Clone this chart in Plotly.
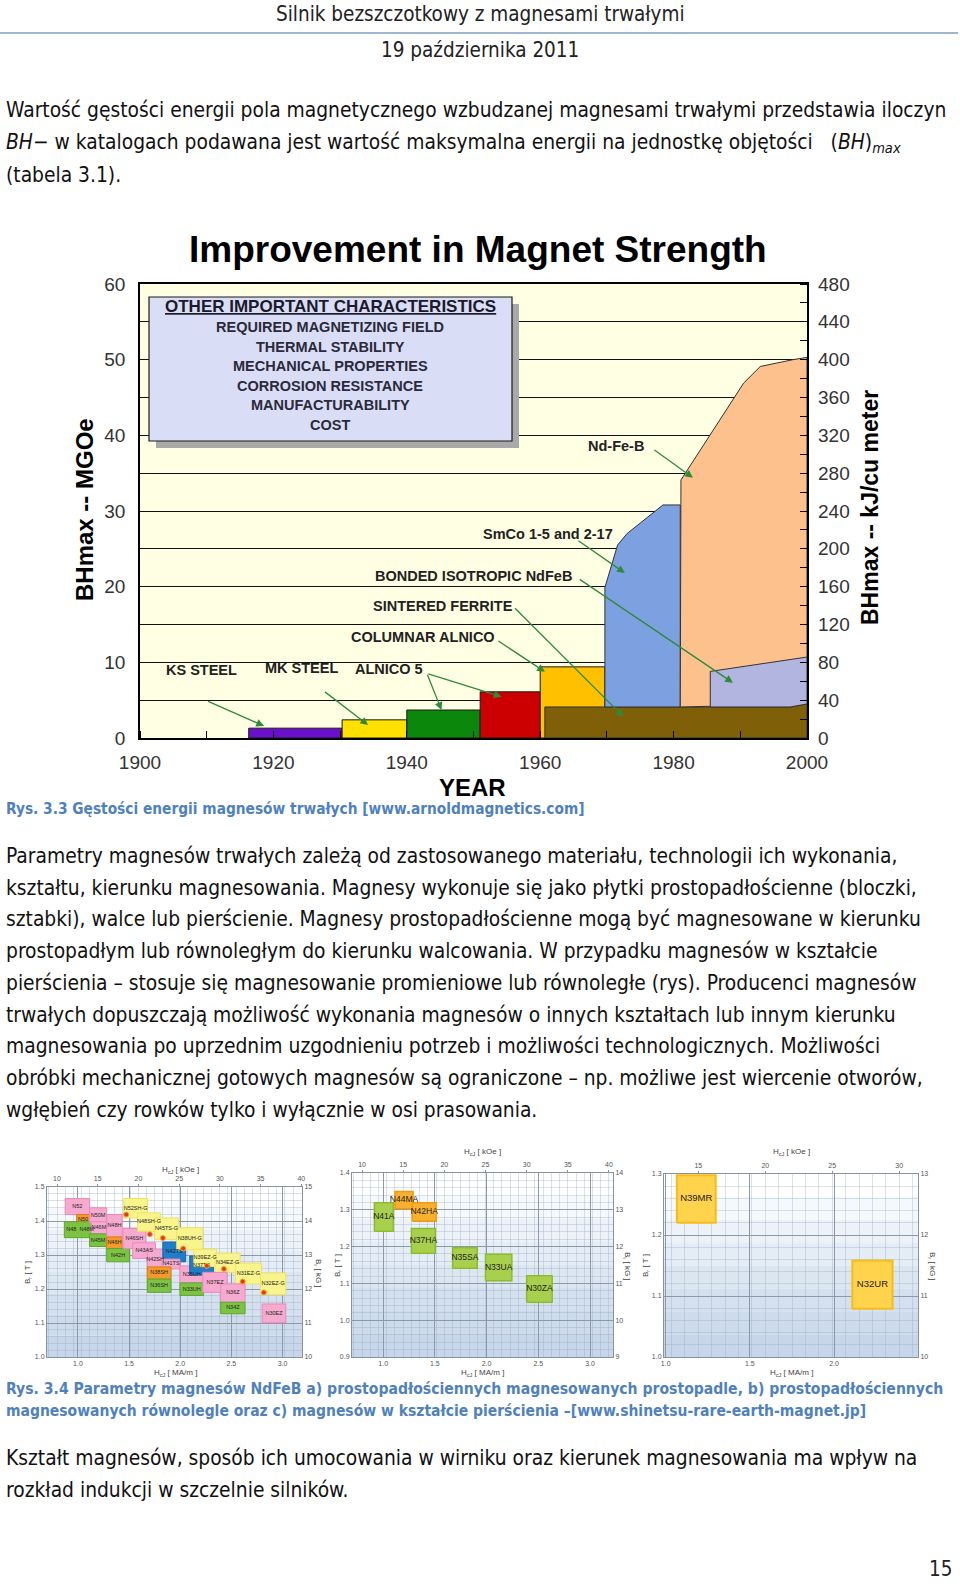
import plotly.graph_objects as go

W, H = 960, 1584
def px(x): return x / W
def py(y): return 1 - y / H

DOC_FONT = "DejaVu Sans Condensed, Liberation Sans Narrow, sans-serif"
CF = "Liberation Sans, Arial, sans-serif"
BLUE_CAP = "#4F81BD"

# ---------------- main chart data (BHmax in MGOe vs year) ----------------
step_names = ["KS STEEL", "MK STEEL", "ALNICO 5", "ALNICO 5 DG", "COLUMNAR ALNICO"]
step_start = [1916.3, 1930.3, 1940.0, 1951.0, 1960.0]
step_end = [1930.3, 1940.0, 1951.0, 1960.0, 1969.7]
step_value = [1.3, 2.4, 3.7, 6.1, 9.4]
step_colors = ["#6A0FCC", "#FFE100", "#0B870B", "#CC0000", "#FFC000"]

ferrite_year = [1960.7, 1960.7, 1997.5, 2000.0, 2000.0]
ferrite_val = [0, 4.1, 4.1, 4.5, 0]
smco_year = [1969.7, 1969.7, 1971.6, 1973.0, 1978.4, 1981.0, 1981.0]
smco_val = [4.1, 19.9, 25.5, 27.0, 30.8, 30.8, 4.1]
ndfeb_year = [1981.0, 1981.1, 1990.5, 1993.0, 1997.9, 2000.0, 2000.0]
ndfeb_val = [4.1, 34.1, 46.9, 49.1, 50.0, 50.3, 4.5]
bonded_year = [1985.5, 1985.5, 2000.0, 2000.0, 1997.5]
bonded_val = [4.1, 8.8, 10.7, 4.5, 4.1]

year_ticks = [1900, 1920, 1940, 1960, 1980, 2000]
mgoe_ticks = [0, 10, 20, 30, 40, 50, 60]
kj_ticks = [0, 40, 80, 120, 160, 200, 240, 280, 320, 360, 400, 440, 480]

label_text = ["Nd-Fe-B", "SmCo 1-5 and 2-17", "BONDED ISOTROPIC NdFeB", "SINTERED FERRITE",
              "COLUMNAR ALNICO", "ALNICO 5", "MK STEEL", "KS STEEL"]
label_year = [1971.4, 1961.2, 1950.0, 1945.4, 1942.4, 1937.3, 1924.2, 1909.2]
label_val = [38.6, 26.9, 21.45, 17.5, 13.4, 9.08, 9.2, 9.0]

arrow_tail_year = [1976.9, 1965.5, 1965.7, 1956.0, 1953.5, 1943.0, 1943.0, 1927.5, 1910.0]
arrow_tail_val = [38.2, 26.2, 21.1, 17.35, 12.95, 8.55, 8.55, 6.25, 4.93]
arrow_head_year = [1982.9, 1972.7, 1988.9, 1972.5, 1960.7, 1945.2, 1954.2, 1934.2, 1918.6]
arrow_head_val = [34.4, 21.8, 7.3, 2.8, 8.76, 3.7, 5.46, 1.72, 1.59]

box_lines = ["REQUIRED MAGNETIZING FIELD", "THERMAL STABILITY", "MECHANICAL PROPERTIES",
             "CORROSION RESISTANCE", "MANUFACTURABILITY", "COST"]

# ---------------- small chart a (perpendicular magnetized blocks) ----------------
a_names = ["N52", "N50", "N48  N48M", "N50M", "N46M", "N45M", "N48H", "N46H", "N42H", "N46SH",
           "N52SH-G", "N48SH-G", "N45TS-G", "N43AS", "N42SH", "N42TS", "N41TS", "N38SH", "N36SH",
           "N38UH-G", "N35UH", "N33UH", "N37TS", "N39EZ-G", "N34EZ-G", "N37EZ", "N31EZ-G",
           "N36Z", "N34Z", "N32EZ-G", "N30EZ"]
a_hcj_lo = [11.0, 12.4, 10.9, 14.0, 14.2, 14.0, 16.1, 16.1, 16.1, 18.1, 18.2, 19.9, 22.0, 19.3,
            21.1, 23.0, 22.9, 21.1, 21.1, 24.7, 25.1, 25.1, 26.3, 26.8, 29.4, 27.9, 31.9, 30.1,
            30.1, 35.0, 35.2]
a_hcj_hi = [14.0, 14.0, 14.8, 16.1, 16.1, 16.1, 18.0, 18.0, 18.9, 20.9, 21.1, 22.7, 24.9, 22.1,
            23.0, 25.8, 25.1, 24.0, 24.0, 27.9, 28.0, 28.0, 29.2, 29.6, 32.5, 30.9, 35.1, 33.1,
            33.1, 38.1, 38.1]
a_br_lo = [1.419, 1.390, 1.351, 1.395, 1.362, 1.325, 1.353, 1.319, 1.280, 1.319, 1.409, 1.370,
           1.346, 1.290, 1.254, 1.280, 1.259, 1.229, 1.190, 1.315, 1.218, 1.181, 1.241, 1.266,
           1.249, 1.190, 1.215, 1.161, 1.127, 1.183, 1.101]
a_br_hi = [1.466, 1.419, 1.398, 1.439, 1.398, 1.362, 1.419, 1.353, 1.319, 1.378, 1.466, 1.424,
           1.409, 1.336, 1.317, 1.338, 1.288, 1.265, 1.229, 1.380, 1.268, 1.218, 1.297, 1.317,
           1.305, 1.249, 1.276, 1.215, 1.161, 1.247, 1.156]
a_kind = ["pink", "orange", "green", "pink", "pink", "green", "pink", "orange", "green", "pink",
          "yellow", "yellow", "yellow", "pink", "pink", "blue", "pink", "orange", "green",
          "yellow", "pink", "green", "blue", "yellow", "yellow", "pink", "yellow", "pink",
          "green", "yellow", "pink"]
a_dot_hcj = [18.5, 21.4, 23.0, 25.5, 28.4, 30.5, 32.8, 35.4]
a_dot_br = [1.419, 1.361, 1.350, 1.319, 1.268, 1.259, 1.222, 1.190]

# ---------------- small chart b (parallel magnetized) ----------------
b_names = ["N44MA", "N42HA", "N41A", "N37HA", "N35SA", "N33UA", "N30ZA"]
b_hcj_lo = [14.0, 16.1, 11.5, 16.0, 21.0, 25.0, 30.0]
b_hcj_hi = [16.2, 19.0, 13.8, 18.9, 24.0, 28.2, 33.1]
b_br_lo = [1.303, 1.269, 1.242, 1.182, 1.141, 1.107, 1.049]
b_br_hi = [1.350, 1.319, 1.319, 1.249, 1.197, 1.179, 1.121]
b_kind = ["orangeb", "orangeb", "greenb", "greenb", "greenb", "greenb", "greenb"]

# ---------------- small chart c (rings) ----------------
c_names = ["N39MR", "N32UR"]
c_hcj_lo = [13.4, 26.5]
c_hcj_hi = [16.3, 29.5]
c_br_lo = [1.220, 1.079]
c_br_hi = [1.298, 1.158]
c_kind = ["gold", "gold"]

KOE_PER_MAM = 12.566

kind_fill = {"pink": "#F6AACF", "orange": "#F39A2A", "green": "#7CC243", "yellow": "#FAF48C",
             "blue": "#1F7DC9", "greenb": "#A9D04C", "orangeb": "#F9B02E", "gold": "#FFD34C"}
kind_line = {"pink": "#EC88BC", "orange": "#E07D10", "green": "#5DA82E", "yellow": "#EFE35C",
             "blue": "#1664A8", "greenb": "#8DBB2F", "orangeb": "#F09A10", "gold": "#F5BC1A"}

fig = go.Figure()

# ---- main chart traces ----
for n, s, e, v, c in zip(step_names, step_start, step_end, step_value, step_colors):
    fig.add_trace(go.Scatter(x=[s, s, e, e, s], y=[0, v, v, 0, 0], fill="toself", fillcolor=c,
                             mode="lines", line=dict(color="#1a1a1a", width=1), name=n,
                             xaxis="x", yaxis="y", showlegend=False, hoverinfo="name"))
for n, xs, ys, c in [("Sintered ferrite", ferrite_year, ferrite_val, "#7F5F08"),
                     ("SmCo", smco_year, smco_val, "#7DA0E0"),
                     ("Nd-Fe-B", ndfeb_year, ndfeb_val, "#FDC18D"),
                     ("Bonded isotropic NdFeB", bonded_year, bonded_val, "#B2B5DF")]:
    fig.add_trace(go.Scatter(x=xs + [xs[0]], y=ys + [ys[0]], fill="toself", fillcolor=c,
                             mode="lines", line=dict(color="#333333", width=1), name=n,
                             xaxis="x", yaxis="y", showlegend=False, hoverinfo="name"))
fig.add_trace(go.Scatter(x=[], y=[], xaxis="x", yaxis="y2", showlegend=False, hoverinfo="skip"))

# ---- small charts ----
def add_boxes(names, lo_x, hi_x, lo_y, hi_y, kinds, xa, ya, fsize, lw):
    for n, x0, x1, y0, y1, k in zip(names, lo_x, hi_x, lo_y, hi_y, kinds):
        fig.add_trace(go.Scatter(x=[x0, x1, x1, x0, x0], y=[y0, y0, y1, y1, y0], fill="toself",
                                 fillcolor=kind_fill[k], mode="lines",
                                 line=dict(color=kind_line[k], width=lw), name=n,
                                 xaxis=xa, yaxis=ya, showlegend=False, hoverinfo="name"))
    fig.add_trace(go.Scatter(x=[(a + b) / 2 for a, b in zip(lo_x, hi_x)],
                             y=[(a + b) / 2 for a, b in zip(lo_y, hi_y)],
                             mode="text", text=names,
                             textfont=dict(size=fsize, color="#222222", family=CF),
                             xaxis=xa, yaxis=ya, showlegend=False, hoverinfo="skip"))

add_boxes(a_names, a_hcj_lo, a_hcj_hi, a_br_lo, a_br_hi, a_kind, "x2", "y3", 5.5, 1)
fig.add_trace(go.Scatter(x=a_dot_hcj, y=a_dot_br, mode="markers",
                         marker=dict(size=5, color="#E23A1E", line=dict(color="#F7A23A", width=1)),
                         xaxis="x2", yaxis="y3", showlegend=False, hoverinfo="skip"))
add_boxes(b_names, b_hcj_lo, b_hcj_hi, b_br_lo, b_br_hi, b_kind, "x4", "y5", 8.5, 1.5)
add_boxes(c_names, c_hcj_lo, c_hcj_hi, c_br_lo, c_br_hi, c_kind, "x6", "y7", 9.5, 2)
for xa, ya in [("x3", "y3"), ("x2", "y4"), ("x5", "y5"), ("x4", "y6"), ("x7", "y7"), ("x6", "y8")]:
    fig.add_trace(go.Scatter(x=[], y=[], xaxis=xa, yaxis=ya, showlegend=False, hoverinfo="skip"))

# ---- layout axes ----
tickf = dict(family=CF, size=19, color="#333333")
layout = dict(
    width=W, height=H, margin=dict(l=0, r=0, t=0, b=0, pad=0, autoexpand=False),
    paper_bgcolor="white", plot_bgcolor="rgba(0,0,0,0)", showlegend=False,
    xaxis=dict(domain=[px(140), px(807)], anchor="y", range=[1900, 2000], tickvals=year_ticks,
               tickfont=tickf, showgrid=False, zeroline=False, showline=True, linecolor="black",
               linewidth=1.5, mirror=True, ticks="", ticklabelstandoff=6, automargin=False,
               minor=dict(dtick=10, ticks="inside", ticklen=7, tickcolor="black", showgrid=False)),
    yaxis=dict(domain=[py(738), py(284)], anchor="x", range=[0, 60], tickvals=mgoe_ticks,
               tickfont=tickf, showgrid=True, gridcolor="#111111", gridwidth=1, zeroline=False,
               showline=True, linecolor="black", linewidth=1.5, mirror=True, ticks="",
               ticklabelstandoff=9, automargin=False,
               minor=dict(dtick=5, showgrid=True, gridcolor="#111111", gridwidth=1)),
    yaxis2=dict(overlaying="y", anchor="x", side="right", range=[0, 480], tickvals=kj_ticks,
                tickfont=tickf, showgrid=False, zeroline=False, ticks="", ticklabelstandoff=10,
                automargin=False,
                minor=dict(dtick=20, ticks="inside", ticklen=7, tickcolor="black")),
)

smallf = dict(family=CF, size=7, color="#555555")

def small_axes(kx, kx2, ky, ky2, xdom, ydom, koe_range, t_range, koe_ticks, mam_ticks,
               t_dtick, t_fmt):
    xa_koe, xa_mam = "xaxis%d" % kx, "xaxis%d" % kx2
    ya_t, ya_kg = "yaxis%d" % ky, "yaxis%d" % ky2
    layout[xa_koe] = dict(domain=xdom, anchor="y%d" % ky, side="top", range=koe_range,
                          tickvals=koe_ticks, tickfont=smallf, showgrid=False, zeroline=False,
                          showline=True, linecolor="#8893A0", linewidth=1, ticks="outside",
                          ticklen=2, tickcolor="#8893A0", automargin=False,
                          minor=dict(dtick=1, showgrid=True, gridcolor="rgba(150,170,195,0.35)",
                                     gridwidth=0.5))
    layout[xa_mam] = dict(overlaying="x%d" % kx, anchor="y%d" % ky, side="bottom",
                          range=[koe_range[0] / KOE_PER_MAM, koe_range[1] / KOE_PER_MAM],
                          tickvals=mam_ticks, tickformat=".1f", tickfont=smallf,
                          showgrid=True, gridcolor="#8E99A8", gridwidth=1, zeroline=False,
                          showline=True, linecolor="#8893A0", linewidth=1, ticks="",
                          automargin=False)
    layout[ya_t] = dict(domain=ydom, anchor="x%d" % kx, range=t_range, dtick=t_dtick,
                        tickformat=t_fmt, tickfont=smallf, showgrid=True, gridcolor="#8E99A8",
                        gridwidth=1, zeroline=False, showline=True, linecolor="#8893A0",
                        linewidth=1, ticks="", automargin=False,
                        minor=dict(dtick=t_dtick / 5, showgrid=True,
                                   gridcolor="rgba(150,170,195,0.35)", gridwidth=0.5))
    layout[ya_kg] = dict(overlaying="y%d" % ky, anchor="x%d" % kx, side="right",
                         range=[t_range[0] * 10, t_range[1] * 10], dtick=t_dtick * 10,
                         tickfont=smallf, showgrid=False, zeroline=False, showline=True,
                         linecolor="#8893A0", linewidth=1, ticks="", automargin=False)

small_axes(2, 3, 3, 4, [px(47), px(302)], [py(1357), py(1187)], [8.77, 40.09], [1.0, 1.5],
           [10, 15, 20, 25, 30, 35, 40], [1.0, 1.5, 2.0, 2.5, 3.0], 0.1, ".1f")
small_axes(4, 5, 5, 6, [px(352), px(613)], [py(1357), py(1173)], [8.78, 40.49], [0.9, 1.4],
           [10, 15, 20, 25, 30, 35, 40], [1.0, 1.5, 2.0, 2.5, 3.0], 0.1, ".1f")
small_axes(6, 7, 7, 8, [px(664), px(918)], [py(1357), py(1174)], [12.44, 31.4], [1.0, 1.3],
           [15, 20, 25, 30], [1.0, 1.5, 2.0, 2.5], 0.1, ".1f")

# ---- shapes ----
shapes = []
shapes.append(dict(type="rect", xref="x domain", yref="y domain", x0=0, x1=1, y0=0, y1=1,
                   fillcolor="#FFFFE3", line=dict(width=0), layer="below"))
grad = ["#FFFFFF", "#F6F9FC", "#EDF2F8", "#E4ECF5", "#DCE6F1", "#D4E0EE", "#CDDBEB", "#C7D6E8"]
for xr, yr in [("x2", "y3"), ("x4", "y5"), ("x6", "y7")]:
    nb = len(grad)
    for i, col in enumerate(grad):
        shapes.append(dict(type="rect", xref=xr + " domain", yref=yr + " domain", x0=0, x1=1,
                           y0=1 - (i + 1) / nb, y1=1 - i / nb, fillcolor=col,
                           line=dict(width=0), layer="below"))
shapes.append(dict(type="rect", xref="paper", yref="paper", x0=px(156), x1=px(519),
                   y0=py(448), y1=py(304), fillcolor="#A9A9A9", line=dict(width=0),
                   layer="above"))
shapes.append(dict(type="rect", xref="paper", yref="paper", x0=px(149), x1=px(512),
                   y0=py(441), y1=py(297), fillcolor="#DADDF6",
                   line=dict(color="#1a1a1a", width=1.2), layer="above"))
shapes.append(dict(type="line", xref="paper", yref="paper", x0=0, x1=px(958), y0=py(33),
                   y1=py(33), line=dict(color="#7F9CC6", width=1.5)))
layout["shapes"] = shapes

# ---- annotations ----
ann = []
def t(text, x, y, size, color="#000000", font=DOC_FONT, xanchor="left", bold=False, angle=0,
      yanchor="middle"):
    ann.append(dict(text=("<b>%s</b>" % text) if bold else text, x=px(x), y=py(y),
                    xref="paper", yref="paper", showarrow=False, xanchor=xanchor,
                    yanchor=yanchor, textangle=angle, borderpad=0,
                    font=dict(family=font, size=size, color=color)))

BODY = 20.8
t("Silnik bezszczotkowy z magnesami trwałymi", 480, 14, 20.5, "#222222", xanchor="center")
t("19 października 2011", 480, 50, 20.5, "#222222", xanchor="center")

body1 = ["Wartość gęstości energii pola magnetycznego wzbudzanej magnesami trwałymi przedstawia iloczyn",
         "<i>BH</i>− w katalogach podawana jest wartość maksymalna energii na jednostkę objętości   (<i>BH</i>)<sub><i>max</i></sub>",
         "(tabela 3.1)."]
for i, line in enumerate(body1):
    t(line, 5, 110 + 32.5 * i, BODY, "#111111")

t("Improvement in Magnet Strength", 478, 249, 37, "#000000", CF, "center", True)
t("OTHER IMPORTANT CHARACTERISTICS", 330, 307, 17, "#1a1a2a", CF, "center", True)
ann[-1]["text"] = "<b><u>OTHER IMPORTANT CHARACTERISTICS</u></b>"
for i, line in enumerate(box_lines):
    t(line, 330, 327 + 19.6 * i, 14.5, "#2a2a3a", CF, "center", True)
t("BHmax -- MGOe", 84, 510, 24, "#000000", CF, "center", True, -90)
t("BHmax -- kJ/cu meter", 870, 508, 23, "#000000", CF, "center", True, -90)
t("YEAR", 472, 787, 24, "#000000", CF, "center", True)

for txt, xv, yv in zip(label_text, label_year, label_val):
    ann.append(dict(text="<b>%s</b>" % txt, x=xv, y=yv, xref="x", yref="y", showarrow=False,
                    xanchor="center", yanchor="middle",
                    font=dict(family=CF, size=14.5, color="#222222")))
for tx, ty, hx, hy in zip(arrow_tail_year, arrow_tail_val, arrow_head_year, arrow_head_val):
    ann.append(dict(text="", x=hx, y=hy, ax=tx, ay=ty, xref="x", yref="y", axref="x", ayref="y",
                    showarrow=True, arrowhead=2, arrowsize=1.2, arrowwidth=1.3,
                    arrowcolor="#2E8B3A", standoff=0, startstandoff=0))

t("<b>Rys. 3.3 Gęstości energii magnesów trwałych [www.arnoldmagnetics.com]</b>", 5, 809, 15.3,
  BLUE_CAP)

body2 = ["Parametry magnesów trwałych zależą od zastosowanego materiału, technologii ich wykonania,",
         "kształtu, kierunku magnesowania. Magnesy wykonuje się jako płytki prostopadłościenne (bloczki,",
         "sztabki), walce lub pierścienie. Magnesy prostopadłościenne mogą być magnesowane w kierunku",
         "prostopadłym lub równoległym do kierunku walcowania. W przypadku magnesów w kształcie",
         "pierścienia – stosuje się magnesowanie promieniowe lub równoległe (rys). Producenci magnesów",
         "trwałych dopuszczają możliwość wykonania magnesów o innych kształtach lub innym kierunku",
         "magnesowania po uprzednim uzgodnieniu potrzeb i możliwości technologicznych. Możliwości",
         "obróbki mechanicznej gotowych magnesów są ograniczone – np. możliwe jest wiercenie otworów,",
         "wgłębień czy rowków tylko i wyłącznie w osi prasowania."]
for i, line in enumerate(body2):
    t(line, 5, 856 + 31.7 * i, BODY, "#111111")

for (xt, yt), (xl, yl), (xr_, yr_), (xb, yb) in [
        ((180, 1170), (28, 1273), (318, 1273), (175, 1373)),
        ((482, 1152), (338, 1266), (627, 1266), (482, 1373)),
        ((791, 1152), (646, 1266), (932, 1266), (791, 1373))]:
    t("H<sub>cJ</sub> [ kOe ]", xt, yt, 8, "#444444", CF, "center")
    t("B<sub>r</sub> [ T ]", xl, yl, 8, "#444444", CF, "center", angle=-90)
    t("B<sub>r</sub> [ kG ]", xr_, yr_, 8, "#444444", CF, "center", angle=90)
    t("H<sub>cJ</sub> [ MA/m ]", xb, yb, 8, "#444444", CF, "center")

t("<b>Rys. 3.4 Parametry magnesów NdFeB a) prostopadłościennych magnesowanych prostopadle, b) prostopadłościennych</b>",
  5, 1389, 15.6, BLUE_CAP)
t("<b>magnesowanych równolegle oraz c) magnesów w kształcie pierścienia –[www.shinetsu-rare-earth-magnet.jp]</b>",
  5, 1411, 15.5, BLUE_CAP)

t("Kształt magnesów, sposób ich umocowania w wirniku oraz kierunek magnesowania ma wpływ na",
  5, 1458, BODY, "#111111")
t("rozkład indukcji w szczelnie silników.", 5, 1490, BODY, "#111111")
t("15", 953, 1569, 20.5, "#222222", xanchor="right")

layout["annotations"] = ann
fig.update_layout(**layout)
fig.write_html("out.html", config={"displayModeBar": False},
               post_script="document.body.style.margin='0';document.body.style.overflow='hidden';")
